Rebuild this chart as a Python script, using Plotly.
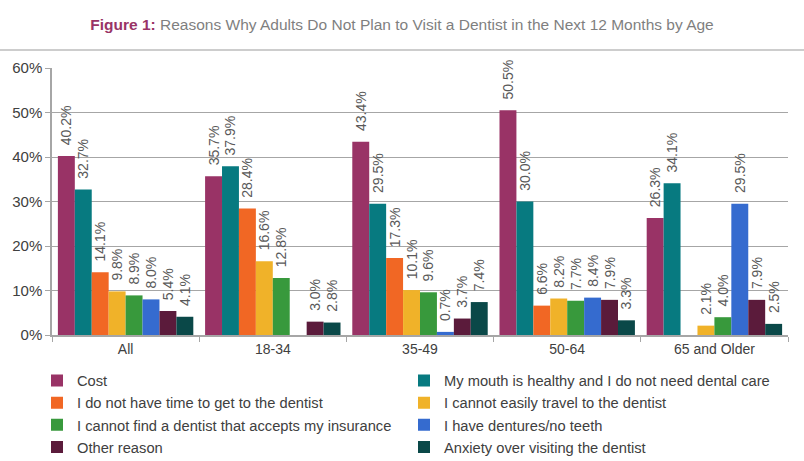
import plotly.graph_objects as go

categories = ["All", "18-34", "35-49", "50-64", "65 and Older"]

series_names = [
    "Cost",
    "My mouth is healthy and I do not need dental care",
    "I do not have time to get to the dentist",
    "I cannot easily travel to the dentist",
    "I cannot find a dentist that accepts my insurance",
    "I have dentures/no teeth",
    "Other reason",
    "Anxiety over visiting the dentist",
]

cost = [40.2, 35.7, 43.4, 50.5, 26.3]
mouth_healthy = [32.7, 37.9, 29.5, 30.0, 34.1]
no_time = [14.1, 28.4, 17.3, 6.6, None]
cannot_travel = [9.8, 16.6, 10.1, 8.2, 2.1]
no_insurance_dentist = [8.9, 12.8, 9.6, 7.7, 4.0]
dentures = [8.0, None, 0.7, 8.4, 29.5]
other_reason = [5.4, 3.0, 3.7, 7.9, 7.9]
anxiety = [4.1, 2.8, 7.4, 3.3, 2.5]

series_values = [cost, mouth_healthy, no_time, cannot_travel,
                 no_insurance_dentist, dentures, other_reason, anxiety]

colors = ["#993366", "#077A80", "#F16724", "#F0B229",
          "#38993C", "#356BCF", "#5B1B3B", "#0A4848"]

FONT = "Liberation Sans, Arial, sans-serif"

fig = go.Figure()
for name, vals, col in zip(series_names, series_values, colors):
    fig.add_trace(go.Bar(
        x=categories, y=vals, name=name,
        marker=dict(color=col, line=dict(width=0)),
        texttemplate="\u00a0\u00a0%{y:.1f}%",
        textposition="outside",
        textangle=-90,
        constraintext="none",
        cliponaxis=False,
        textfont=dict(family=FONT, size=14, color="#595959"),
    ))

fig.update_layout(
    width=804, height=461,
    margin=dict(l=52, r=16, t=68, b=126, autoexpand=False),
    paper_bgcolor="white", plot_bgcolor="white",
    barmode="group", bargap=0.08, bargroupgap=0,
    font=dict(family=FONT, color="#404040"),
    title=dict(
        text="<b>Figure 1:</b> <span style='color:#7F7F7F'>Reasons Why Adults Do Not Plan to Visit a Dentist in the Next 12 Months by Age</span>",
        font=dict(family=FONT, size=15.5, color="#993366"),
        x=0.5, xanchor="center", y=1 - 25 / 461, yanchor="middle",
    ),
    showlegend=True,
    legend=dict(
        orientation="h",
        x=(37 - 52) / 736, y=(335 - 364.5) / 267, xanchor="left", yanchor="top",
        entrywidth=322, entrywidthmode="pixels",
        font=dict(family=FONT, size=14.7, color="#404040"),
        traceorder="normal",
    ),
    shapes=[dict(type="line", xref="paper", yref="paper",
                 x0=-52 / 736, x1=1 + 16 / 736, y0=1 + 18 / 267, y1=1 + 18 / 267,
                 line=dict(color="#BDBDBD", width=1.5))],
)

fig.update_yaxes(
    range=[0, 60], dtick=10, ticksuffix="%",
    showgrid=True, gridcolor="#A6A6A6", gridwidth=1,
    showline=True, linecolor="#A6A6A6", linewidth=1.5,
    ticks="outside", ticklen=5, tickcolor="#A6A6A6",
    tickfont=dict(family=FONT, size=15, color="#404040"),
    zeroline=False,
)
fig.update_xaxes(
    showline=True, linecolor="#A6A6A6", linewidth=1.5,
    ticks="outside", tickson="boundaries", ticklen=5, tickcolor="#A6A6A6",
    tickfont=dict(family=FONT, size=14, color="#404040"),
)

fig.write_html("out.html", config={"displayModeBar": False},
               post_script="document.body.style.margin='0';document.body.style.padding='0';")
